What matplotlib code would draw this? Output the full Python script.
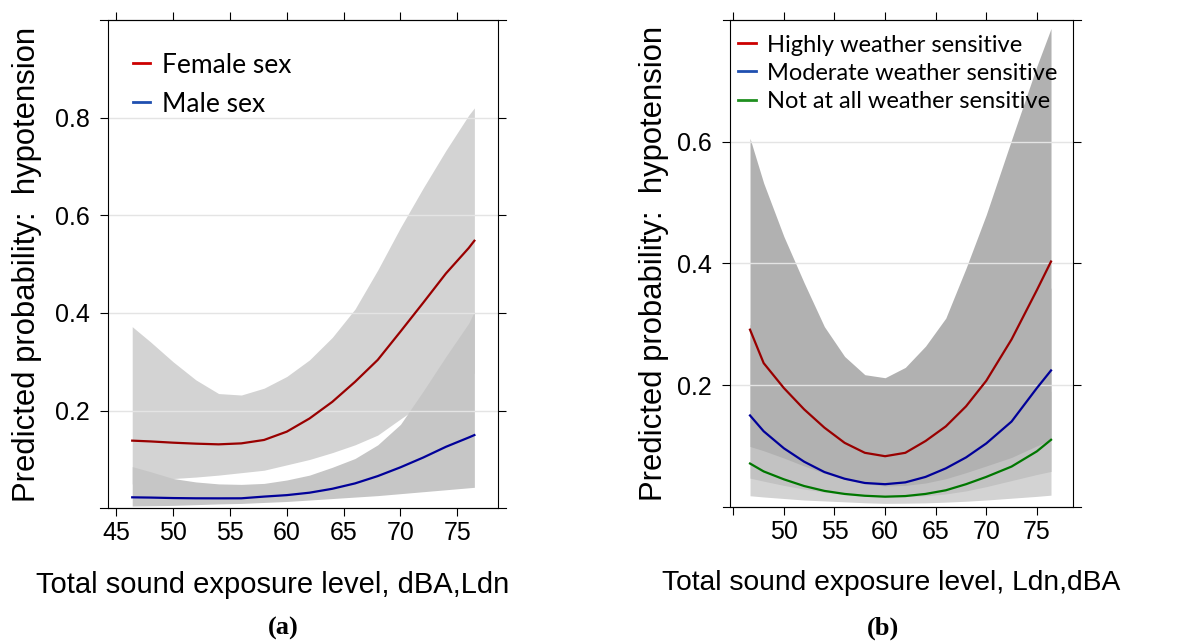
import numpy as np
import matplotlib
matplotlib.use("Agg")
import matplotlib.pyplot as plt
from matplotlib.lines import Line2D

# ---- panel (a): sex ----
xa = [46.4, 48, 50, 52, 54, 56, 58, 60, 62, 64, 66, 68, 70, 72, 74, 76, 76.5]
female = [0.1386, 0.137, 0.1344, 0.1324, 0.131, 0.133, 0.140, 0.157, 0.184, 0.218,
          0.259, 0.304, 0.362, 0.421, 0.481, 0.533, 0.548]
female_hi = [0.372, 0.341, 0.300, 0.263, 0.235, 0.232, 0.246, 0.270, 0.304, 0.350,
             0.408, 0.488, 0.575, 0.656, 0.733, 0.805, 0.820]
female_lo = [0.050, 0.055, 0.061, 0.064, 0.068, 0.073, 0.078, 0.089, 0.100, 0.114,
             0.130, 0.150, 0.183, 0.215, 0.245, 0.270, 0.277]
male = [0.0225, 0.022, 0.021, 0.0205, 0.0204, 0.0205, 0.024, 0.027, 0.032, 0.040,
        0.051, 0.066, 0.084, 0.104, 0.126, 0.145, 0.150]
male_hi = [0.0854, 0.075, 0.061, 0.054, 0.050, 0.049, 0.051, 0.058, 0.068, 0.084,
           0.102, 0.130, 0.172, 0.240, 0.311, 0.379, 0.403]
male_lo = [0.0047, 0.0052, 0.006, 0.0075, 0.009, 0.010, 0.012, 0.014, 0.017, 0.020,
           0.023, 0.026, 0.030, 0.034, 0.038, 0.042, 0.043]

# ---- panel (b): weather sensitivity ----
xb = [46.65, 48, 50, 52, 54, 56, 58, 60, 62, 64, 66, 68, 70, 72.5, 75, 76.4]
high = [0.291, 0.236, 0.195, 0.160, 0.130, 0.105, 0.0886, 0.083, 0.0886, 0.108,
        0.132, 0.165, 0.207, 0.275, 0.356, 0.403]
high_hi = [0.6055, 0.532, 0.444, 0.368, 0.296, 0.247, 0.217, 0.212, 0.229, 0.264,
           0.310, 0.392, 0.480, 0.603, 0.724, 0.786]
high_lo = [0.099, 0.092, 0.080, 0.067, 0.055, 0.045, 0.038, 0.034, 0.035, 0.039,
           0.046, 0.056, 0.067, 0.081, 0.100, 0.110]
moder = [0.150, 0.124, 0.096, 0.074, 0.057, 0.046, 0.039, 0.037, 0.040, 0.049,
         0.063, 0.081, 0.104, 0.140, 0.195, 0.224]
moder_hi = [0.30, 0.26, 0.21, 0.17, 0.13, 0.10, 0.08, 0.075, 0.08, 0.09,
            0.11, 0.14, 0.18, 0.24, 0.31, 0.36]
moder_lo = [0.047, 0.042, 0.035, 0.029, 0.024, 0.020, 0.017, 0.016, 0.0165, 0.018,
            0.021, 0.026, 0.033, 0.043, 0.053, 0.058]
notat = [0.071, 0.058, 0.045, 0.034, 0.026, 0.021, 0.018, 0.0165, 0.0175, 0.021,
         0.027, 0.037, 0.049, 0.066, 0.091, 0.110]
notat_hi = [0.16, 0.13, 0.10, 0.08, 0.06, 0.045, 0.038, 0.035, 0.037, 0.043,
            0.055, 0.07, 0.09, 0.12, 0.16, 0.19]
notat_lo = [0.018, 0.016, 0.0135, 0.011, 0.0095, 0.008, 0.0065, 0.0055, 0.0058, 0.0063,
            0.0075, 0.009, 0.011, 0.014, 0.017, 0.019]

xticks = [45, 50, 55, 60, 65, 70, 75]
plt.rcParams['font.family'] = ['Liberation Sans', 'DejaVu Sans']

fig = plt.figure(figsize=(11.92, 6.41), dpi=100)
axa = fig.add_axes([0.0906, 0.207, 0.3272, 0.7618])
axb = fig.add_axes([0.6124, 0.2095, 0.288, 0.7593])


def frame(ax, yt, ext):
    ax.tick_params(direction='out', length=5.8, width=0.8, labelsize=18,
                   top=True, right=True, labeltop=False, labelright=False)
    ax.tick_params(axis='x', pad=3.5)
    ax.tick_params(axis='y', pad=7)
    ax.set_xticks(xticks)
    ax.set_yticks(yt)
    for s in ax.spines.values():
        s.set_linewidth(0.8)
    for yy in (0, 1):
        ax.plot([-ext, 1 + ext], [yy, yy], color='black', lw=0.8,
                transform=ax.transAxes, clip_on=False)
    for v in yt:
        ax.axhline(v, color='#e4e4e4', lw=1.0, zorder=1.5)


# panel a
axa.fill_between(xa, female_lo, female_hi, color='#d3d3d3', lw=0, zorder=1)
axa.fill_between(xa, male_lo, male_hi, color='#c6c6c6', lw=0, zorder=1.1)
axa.plot(xa, female, color='#990000', lw=1.6, zorder=3)
axa.plot(xa, male, color='#000099', lw=1.6, zorder=3)
axa.set_xlim(44.27, 78.58)
axa.set_ylim(0, 1.0)
frame(axa, [0.2, 0.4, 0.6, 0.8], 0.0205)
axa.set_xticklabels([str(t) for t in xticks])
axa.set_yticklabels(['0.2', '0.4', '0.6', '0.8'])
axa.set_xlabel('Total sound exposure level, dBA,Ldn', fontsize=21)
axa.xaxis.set_label_coords(0.423, -0.128)
axa.set_ylabel('Predicted probability:  hypotension', fontsize=22.3)
axa.yaxis.set_label_coords(-0.169, 0.5)
hd_a = [Line2D([], [], color='#cc0000', lw=2), Line2D([], [], color='#1f4fb0', lw=2)]
axa.legend(hd_a, ['Female sex', 'Male sex'], loc='upper left', bbox_to_anchor=(0.064, 0.933),
           frameon=False, borderpad=0, borderaxespad=0, handlelength=0.65,
           handletextpad=0.45, labelspacing=0.53, prop={'family': 'Lato', 'size': 19})

# panel b
axb.fill_between(xb, notat_lo, notat_hi, color='#d3d3d3', lw=0, zorder=1)
axb.fill_between(xb, moder_lo, moder_hi, color='#c2c2c2', lw=0, zorder=1.1)
axb.fill_between(xb, high_lo, high_hi, color='#b1b1b1', lw=0, zorder=1.2)
axb.plot(xb, high, color='#990000', lw=1.6, zorder=3)
axb.plot(xb, moder, color='#000099', lw=1.6, zorder=3)
axb.plot(xb, notat, color='#007700', lw=1.6, zorder=3)
axb.set_xlim(44.67, 78.6)
axb.set_ylim(0, 0.8)
frame(axb, [0.2, 0.4, 0.6], 0.0213)
axb.set_xticklabels([''] + [str(t) for t in xticks[1:]])
axb.set_yticklabels(['0.2', '0.4', '0.6'])
axb.set_xlabel('Total sound exposure level, Ldn,dBA', fontsize=20.3)
axb.xaxis.set_label_coords(0.47, -0.13)
axb.set_ylabel('Predicted probability:  hypotension', fontsize=22.3)
axb.yaxis.set_label_coords(-0.178, 0.5)
hd_b = [Line2D([], [], color='#cc0000', lw=2), Line2D([], [], color='#1f4fb0', lw=2),
        Line2D([], [], color='#1f8f1f', lw=2)]
axb.legend(hd_b, ['Highly weather sensitive', 'Moderate weather sensitive',
                  'Not at all weather sensitive'], loc='upper left', bbox_to_anchor=(0.023, 0.97),
           frameon=False, borderpad=0, borderaxespad=0, handlelength=0.75,
           handletextpad=0.5, labelspacing=0.3, prop={'family': 'Lato', 'size': 17})

fig.text(283 / 1192, 1 - 628 / 641, '(a)', ha='center', va='center', fontsize=19,
         fontweight='bold', family='Liberation Serif')
fig.text(883 / 1192, 1 - 628 / 641, '(b)', ha='center', va='center', fontsize=19,
         fontweight='bold', family='Liberation Serif')

fig.savefig('out.png', dpi=100)
